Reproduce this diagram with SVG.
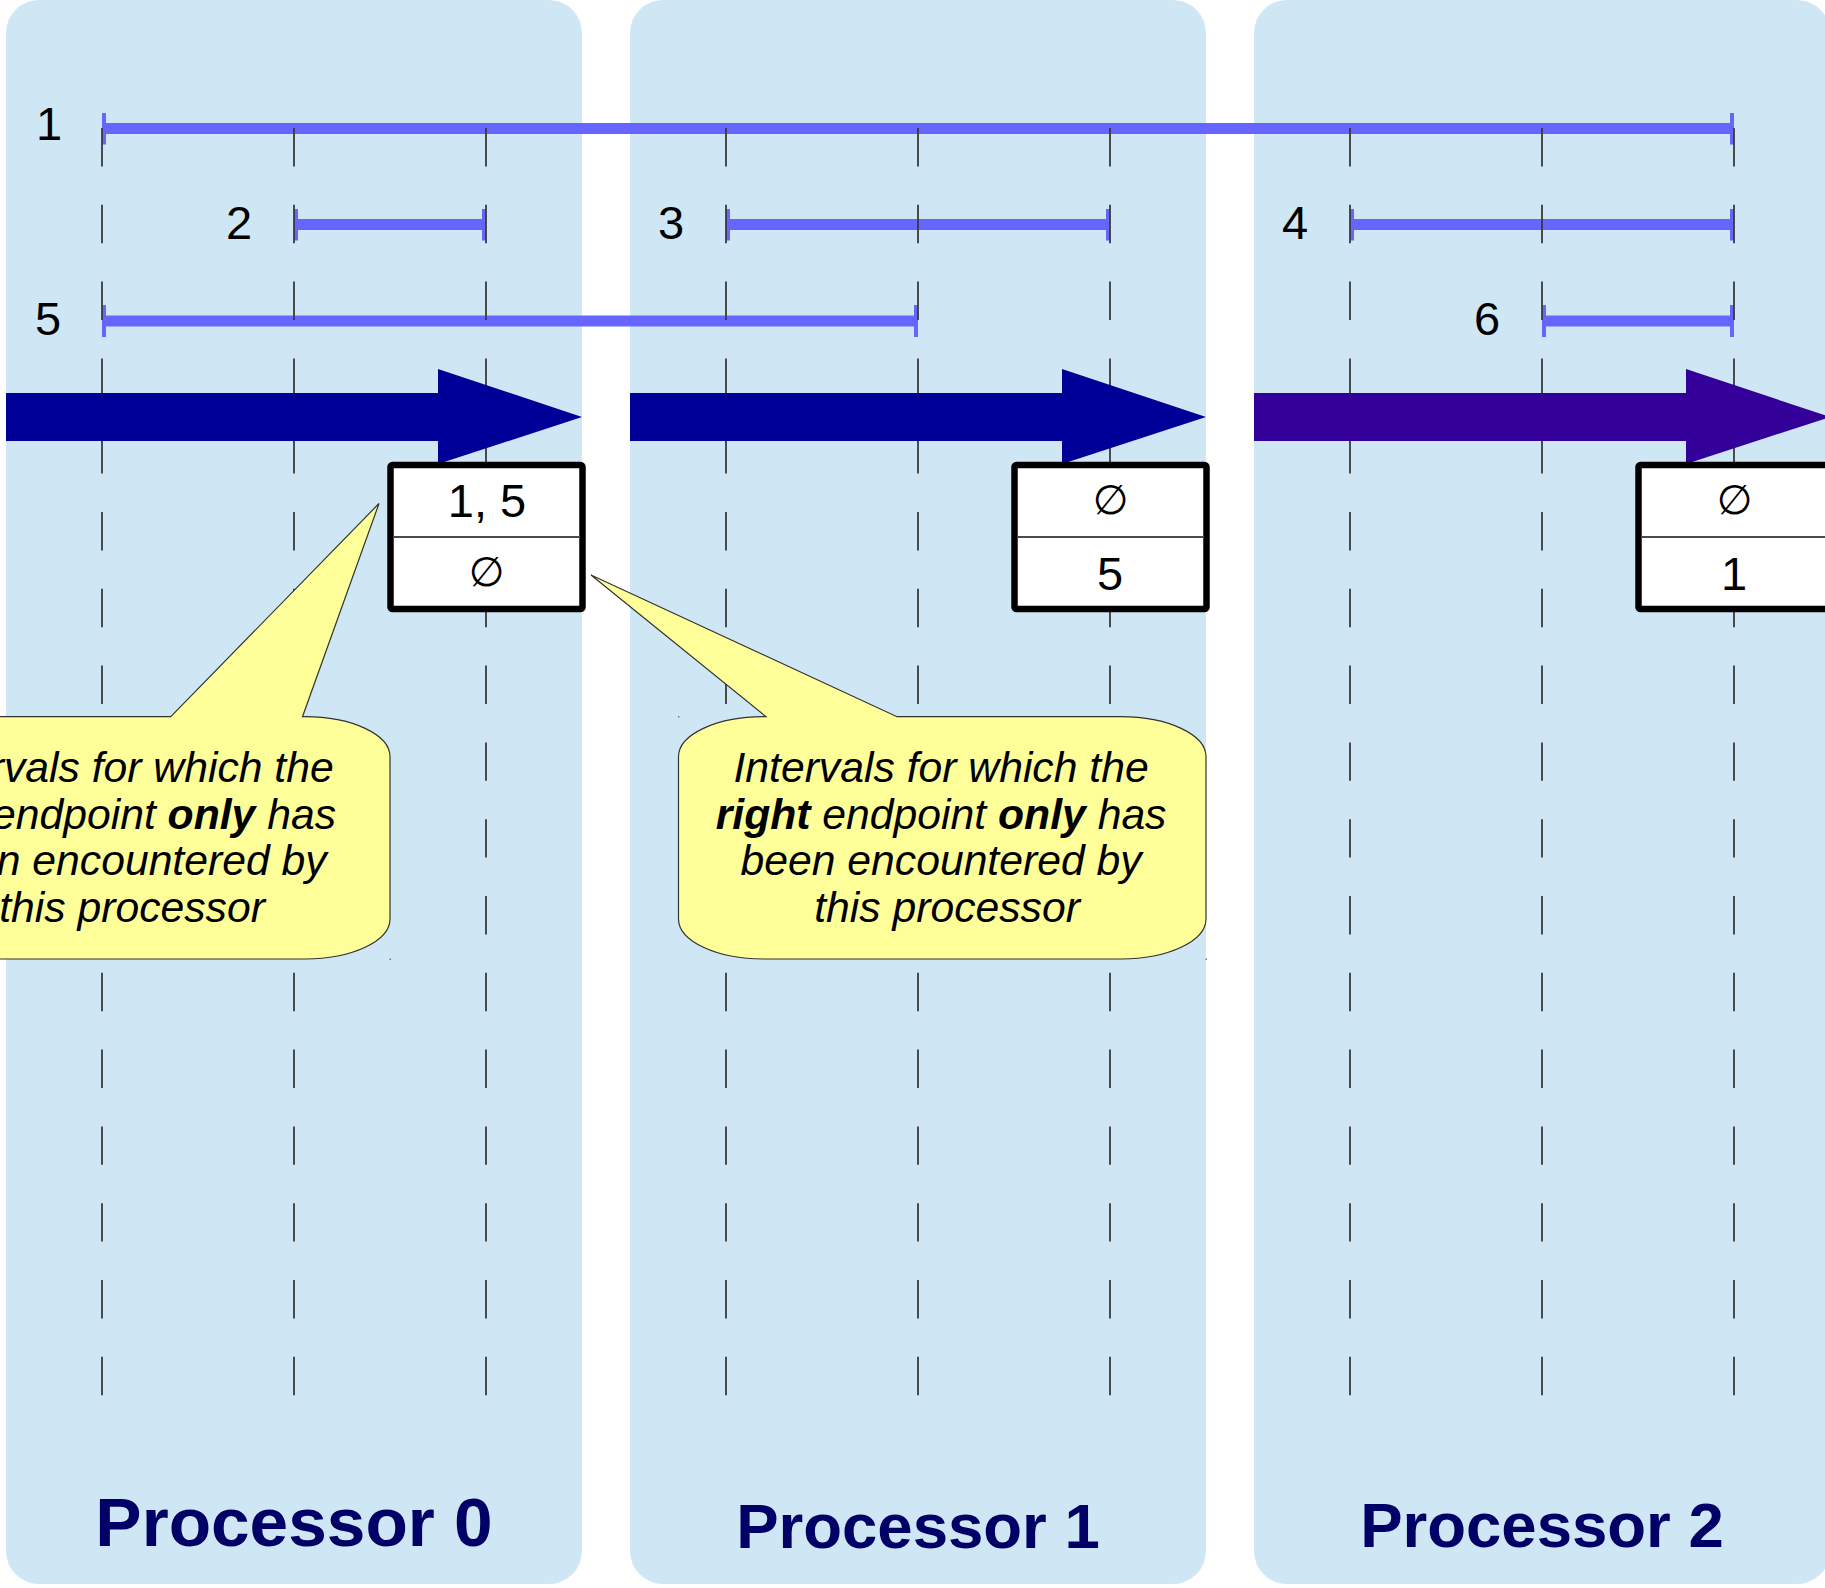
<svg xmlns="http://www.w3.org/2000/svg" width="1825" height="1588" viewBox="0 0 1825 1588">
  <style>
    .panel { fill: #cfe6f4; }
    .grid { stroke: #3a3a3a; stroke-width: 1.8; stroke-dasharray: 38.4 38.4; fill: none; }
    .span { stroke: #6666ff; stroke-width: 11; fill: none; marker-start: url(#bar); marker-end: url(#bar); }
    .num { font-family: "Liberation Sans", Arial, sans-serif; font-size: 47px; fill: #000; text-anchor: middle; }
    .sym { font-family: "Liberation Sans", "DejaVu Sans", sans-serif; font-size: 41px; fill: #000; text-anchor: middle; }
    .flow0 { fill: #000099; }
    .flow2 { fill: #330099; }
    .box { fill: #ffffff; stroke: #000; stroke-width: 6.5; stroke-linejoin: round; }
    .divider { stroke: #4a4a4a; stroke-width: 1.8; }
    .bubble { fill: #ffff99; stroke: #333; stroke-width: 1.2; stroke-linejoin: miter; }
    .note { font-family: "Liberation Sans", Arial, sans-serif; font-size: 42.7px; font-style: italic; fill: #000; text-anchor: middle; }
    .note .b { font-weight: bold; }
    .title { font-family: "Liberation Sans", Arial, sans-serif; font-weight: bold; fill: #000066; text-anchor: middle; }
    .dot { fill: #777; }
  </style>
  <defs>
    <!-- end bar for interval lines, kept inside the line ends -->
    <marker id="bar" markerUnits="userSpaceOnUse" markerWidth="4" markerHeight="32" viewBox="-4 -16 4 32" refX="0" refY="0" orient="auto-start-reverse">
      <rect x="-4" y="-16" width="4" height="32" fill="#6666ff"/>
    </marker>
  </defs>

  <!-- processor columns -->
  <g id="panels">
    <rect id="panel-0" class="panel" x="6" y="0" width="576" height="1584" rx="33" ry="33"/>
    <rect id="panel-1" class="panel" x="630" y="0" width="576" height="1584" rx="33" ry="33"/>
    <rect id="panel-2" class="panel" x="1254" y="0" width="576" height="1584" rx="33" ry="33"/>
  </g>

  <!-- intervals -->
  <g id="intervals">
    <g id="interval-1">
      <path class="span" d="M102,128.5 H1734"/>
      <text class="num" x="49" y="140">1</text>
    </g>
    <g id="interval-2">
      <path class="span" d="M294,224.5 H486"/>
      <text class="num" x="239" y="239">2</text>
    </g>
    <g id="interval-3">
      <path class="span" d="M726,224.5 H1110"/>
      <text class="num" x="671" y="239">3</text>
    </g>
    <g id="interval-4">
      <path class="span" d="M1350,224.5 H1734"/>
      <text class="num" x="1295" y="239">4</text>
    </g>
    <g id="interval-5">
      <path class="span" d="M102,321 H918"/>
      <text class="num" x="48" y="335">5</text>
    </g>
    <g id="interval-6">
      <path class="span" d="M1542,321 H1734"/>
      <text class="num" x="1487" y="335">6</text>
    </g>
  </g>

  <!-- dashed guide lines -->
  <g id="guides">
    <line class="grid" x1="102" y1="128" x2="102" y2="1396"/>
    <line class="grid" x1="294" y1="128" x2="294" y2="1396"/>
    <line class="grid" x1="486" y1="128" x2="486" y2="1396"/>
    <line class="grid" x1="726" y1="128" x2="726" y2="1396"/>
    <line class="grid" x1="918" y1="128" x2="918" y2="1396"/>
    <line class="grid" x1="1110" y1="128" x2="1110" y2="1396"/>
    <line class="grid" x1="1350" y1="128" x2="1350" y2="1396"/>
    <line class="grid" x1="1542" y1="128" x2="1542" y2="1396"/>
    <line class="grid" x1="1734" y1="128" x2="1734" y2="1396"/>
  </g>

  <!-- connectors: sweep arrows between processors -->
  <g id="connectors">
    <polygon class="flow0" points="6,393 438,393 438,369 582,417 438,464 438,441 6,441"/>
    <polygon class="flow0" points="630,393 1062,393 1062,369 1206,417 1062,464 1062,441 630,441"/>
    <polygon class="flow2" points="1254,393 1686,393 1686,369 1830,417 1686,464 1686,441 1254,441"/>
  </g>

  <!-- per-processor result boxes -->
  <g id="box-0">
    <rect class="box" x="390.5" y="465" width="192" height="144" rx="2"/>
    <line class="divider" x1="393" y1="537" x2="580" y2="537"/>
    <text class="num" x="487" y="517">1, 5</text>
    <text class="sym" x="486.5" y="586">∅</text>
  </g>
  <g id="box-1">
    <rect class="box" x="1014.5" y="465" width="192" height="144" rx="2"/>
    <line class="divider" x1="1017" y1="537" x2="1204" y2="537"/>
    <text class="sym" x="1110.5" y="514">∅</text>
    <text class="num" x="1110" y="590">5</text>
  </g>
  <g id="box-2">
    <rect class="box" x="1638.5" y="465" width="192" height="144" rx="2"/>
    <line class="divider" x1="1641" y1="537" x2="1828" y2="537"/>
    <text class="sym" x="1734.5" y="514">∅</text>
    <text class="num" x="1734" y="590">1</text>
  </g>

  <!-- callouts -->
  <g id="callout-left">
    <path class="bubble" d="M170.8,716.7 L379,503.5 L302.5,716.7 L305,716.7 A85,40 0 0 1 390,756.7 L390,919 A85,40 0 0 1 305,959 L-52.5,959 A85,40 0 0 1 -137.5,919 L-137.5,756.7 A85,40 0 0 1 -52.5,716.7 Z"/>
    <text class="note" x="132">
      <tspan x="132" y="782">Intervals for which the</tspan>
      <tspan x="132" y="829"><tspan class="b">left</tspan> endpoint <tspan class="b">only</tspan> has</tspan>
      <tspan x="132" y="875">been encountered by</tspan>
      <tspan x="132" y="922">this processor</tspan>
    </text>
    <rect class="dot" x="389.5" y="958.5" width="1.5" height="1.5"/>
  </g>
  <g id="callout-right">
    <path class="bubble" d="M766,716.7 L591,575 L897,716.7 L1121,716.7 A85,40 0 0 1 1206,756.7 L1206,919 A85,40 0 0 1 1121,959 L763.5,959 A85,40 0 0 1 678.5,919 L678.5,756.7 A85,40 0 0 1 763.5,716.7 Z"/>
    <text class="note" x="947">
      <tspan x="947" y="782">Intervals for which the</tspan>
      <tspan x="947" y="829"><tspan class="b">right</tspan> endpoint <tspan class="b">only</tspan> has</tspan>
      <tspan x="947" y="875">been encountered by</tspan>
      <tspan x="947" y="922">this processor</tspan>
    </text>
    <rect class="dot" x="678" y="716" width="1.5" height="1.5"/>
    <rect class="dot" x="1205.5" y="958.5" width="1.5" height="1.5"/>
  </g>

  <!-- column titles -->
  <g id="titles">
    <text class="title" x="294" y="1546" font-size="69.4">Processor 0</text>
    <text class="title" x="918" y="1548" font-size="63.5">Processor 1</text>
    <text class="title" x="1542" y="1547" font-size="63.5">Processor 2</text>
  </g>
</svg>
